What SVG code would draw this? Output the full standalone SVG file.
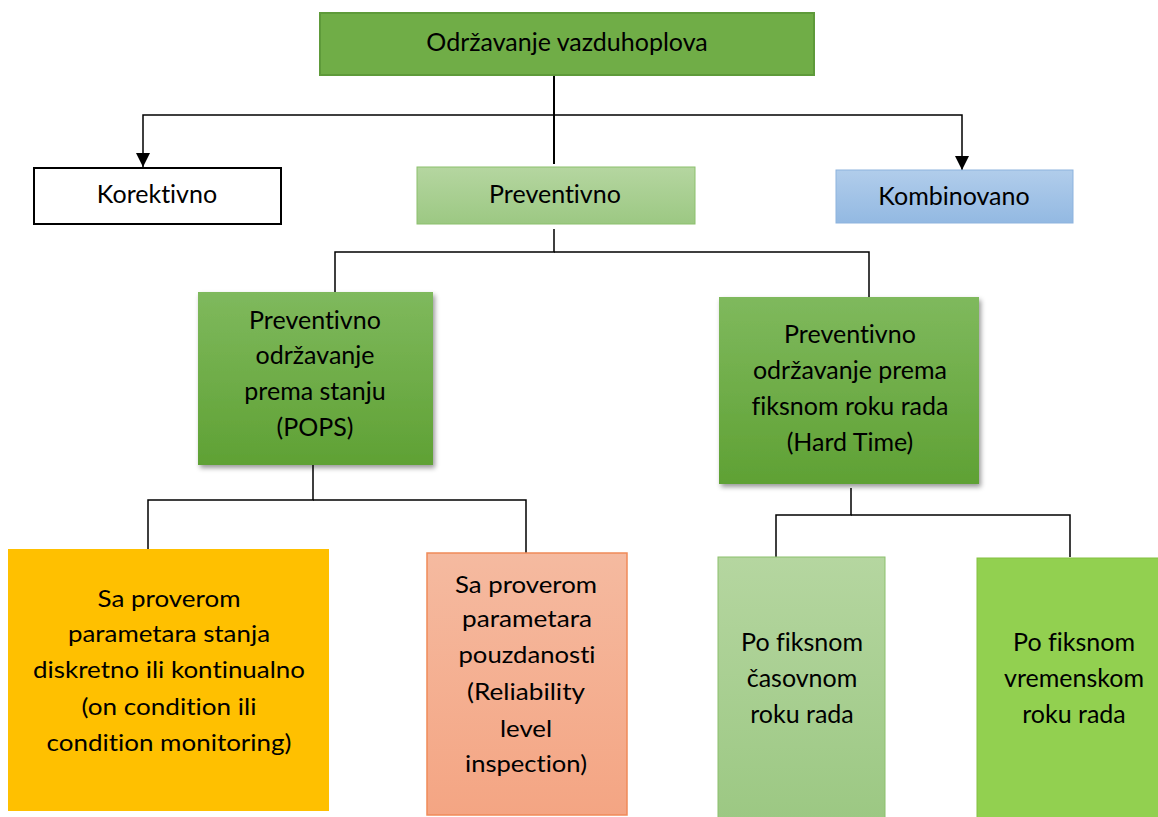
<svg xmlns="http://www.w3.org/2000/svg" width="1158" height="817" viewBox="0 0 1158 817">
<defs>
<style>
text{font-family:Lato,"Open Sans","Liberation Sans",sans-serif;font-size:25px;fill:#000;text-anchor:middle;font-variant-ligatures:none}
.s{font-size:24px}
.c{fill:none;stroke:#000;stroke-width:1.5}
.t{fill:none;stroke:#000;stroke-width:2}
</style>
<linearGradient id="gLight" x1="0" y1="0" x2="0" y2="1"><stop offset="0" stop-color="#B5D6A0"/><stop offset="1" stop-color="#9CC883"/></linearGradient>
<linearGradient id="gBlue" x1="0" y1="0" x2="0" y2="1"><stop offset="0" stop-color="#B1CDEB"/><stop offset="1" stop-color="#93B9E2"/></linearGradient>
<linearGradient id="gGreen" x1="0" y1="0" x2="0" y2="1"><stop offset="0" stop-color="#7FB95D"/><stop offset="1" stop-color="#5FA134"/></linearGradient>
<linearGradient id="gSalmon" x1="0" y1="0" x2="0" y2="1"><stop offset="0" stop-color="#F5BAA0"/><stop offset="1" stop-color="#F4A583"/></linearGradient>
<filter id="sh" x="-10%" y="-10%" width="125%" height="125%"><feDropShadow dx="2" dy="3" stdDeviation="2.5" flood-color="#000" flood-opacity="0.4"/></filter>
<marker id="arr" viewBox="0 0 10 10" refX="10" refY="5" markerWidth="14" markerHeight="14" markerUnits="userSpaceOnUse" orient="auto"><path d="M0,0L10,5L0,10z" fill="#000"/></marker>
</defs>
<g id="connectors">
<path class="t" d="M554,75V164"/>
<path class="c" d="M554,115H143V167" marker-end="url(#arr)"/>
<path class="c" d="M554,115H962V170" marker-end="url(#arr)"/>
<path class="c" d="M554,229V252H335V292"/>
<path class="c" d="M554,252H869V299"/>
<path class="c" d="M313,465V500H148V553"/>
<path class="c" d="M313,500H526V553"/>
<path class="c" d="M851,488V515H776V557"/>
<path class="c" d="M851,515H1070V557"/>
</g>
<g id="n-root"><rect x="320" y="13" width="494" height="62" fill="#70AD47" stroke="#5E9A3A" stroke-width="2"/><text x="567" y="51">Održavanje vazduhoplova</text></g>
<g id="n-korektivno"><rect x="34" y="168" width="247" height="56" fill="#fff" stroke="#000" stroke-width="2"/><text x="157" y="203">Korektivno</text></g>
<g id="n-preventivno"><rect x="417" y="167" width="278" height="57" fill="url(#gLight)" stroke="#8CC06C" stroke-width="1"/><text x="555" y="203">Preventivno</text></g>
<g id="n-kombinovano"><rect x="836" y="170" width="237" height="53" fill="url(#gBlue)" stroke="#8DB3DE" stroke-width="1"/><text x="954" y="205">Kombinovano</text></g>
<g id="n-pops"><rect x="198" y="292" width="235" height="173" fill="url(#gGreen)" filter="url(#sh)"/>
<text x="315" y="329">Preventivno</text><text x="315" y="364">održavanje</text><text x="315" y="400">prema stanju</text><text x="315" y="436">(POPS)</text></g>
<g id="n-hardtime"><rect x="719" y="297" width="260" height="187" fill="url(#gGreen)" filter="url(#sh)"/>
<text x="850" y="343">Preventivno</text><text x="850" y="379">održavanje prema</text><text x="850" y="415">fiksnom roku rada</text><text x="850" y="451">(Hard Time)</text></g>
<g id="n-condition"><rect x="8" y="549" width="321" height="262" fill="#FFC000"/>
<text class="s" x="169" y="607" textLength="143" lengthAdjust="spacingAndGlyphs">Sa proverom</text>
<text class="s" x="169" y="642" textLength="202" lengthAdjust="spacingAndGlyphs">parametara stanja</text>
<text class="s" x="169" y="678" textLength="272" lengthAdjust="spacingAndGlyphs">diskretno ili kontinualno</text>
<text class="s" x="169" y="715" textLength="175" lengthAdjust="spacingAndGlyphs">(on condition ili</text>
<text class="s" x="169" y="751" textLength="245" lengthAdjust="spacingAndGlyphs">condition monitoring)</text></g>
<g id="n-reliability"><rect x="427" y="553" width="200" height="262" fill="url(#gSalmon)" stroke="#F08A58" stroke-width="1.5"/>
<text class="s" x="526" y="593" textLength="142" lengthAdjust="spacingAndGlyphs">Sa proverom</text>
<text class="s" x="527" y="627" textLength="130" lengthAdjust="spacingAndGlyphs">parametara</text>
<text class="s" x="527" y="663" textLength="137" lengthAdjust="spacingAndGlyphs">pouzdanosti</text>
<text class="s" x="526" y="700" textLength="118" lengthAdjust="spacingAndGlyphs">(Reliability</text>
<text class="s" x="526" y="737" textLength="52" lengthAdjust="spacingAndGlyphs">level</text>
<text class="s" x="526" y="772" textLength="122" lengthAdjust="spacingAndGlyphs">inspection)</text></g>
<g id="n-casovnom"><rect x="718" y="557" width="167" height="262" fill="url(#gLight)" stroke="#8CC06C" stroke-width="1"/>
<text x="802" y="651">Po fiksnom</text><text x="802" y="687">časovnom</text><text x="802" y="723">roku rada</text></g>
<g id="n-vremenskom"><rect x="977" y="558" width="183" height="262" fill="#92D050" stroke="#84C040" stroke-width="1"/>
<text x="1074" y="651">Po fiksnom</text><text x="1074" y="687">vremenskom</text><text x="1074" y="723">roku rada</text></g>
</svg>
